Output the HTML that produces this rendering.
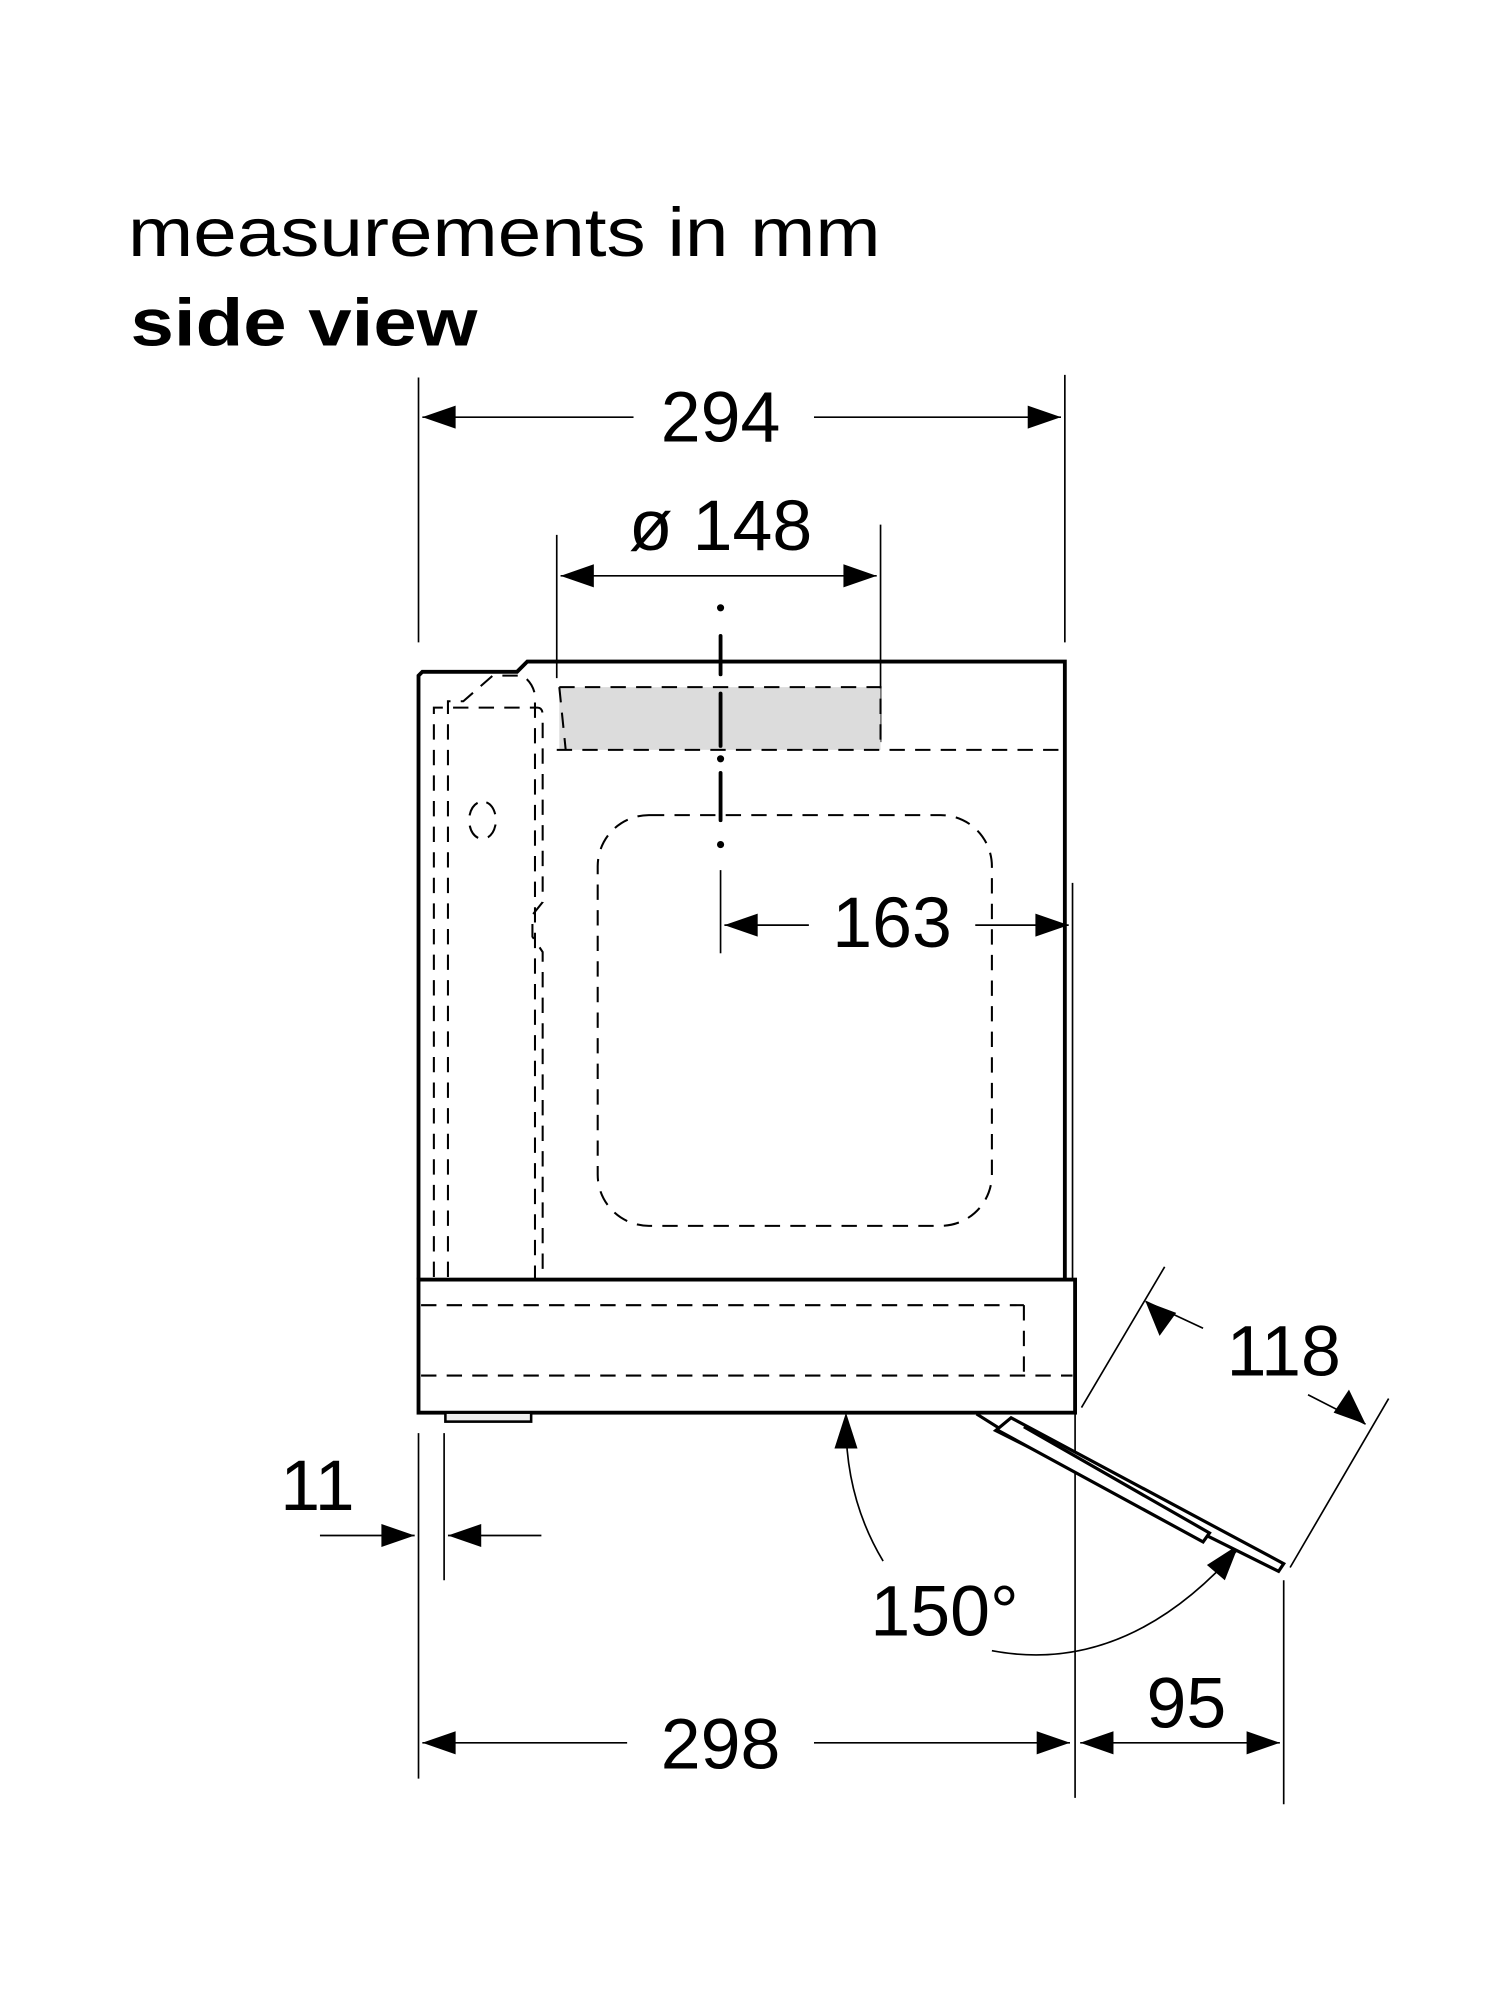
<!DOCTYPE html>
<html><head><meta charset="utf-8"><style>
html,body{margin:0;padding:0;background:#fff;}
svg{display:block;}
text{font-family:"Liberation Sans",Arial,sans-serif;fill:#000;}
</style></head><body>
<svg width="1500" height="2000" viewBox="0 0 1172 1563" preserveAspectRatio="none" xmlns="http://www.w3.org/2000/svg">
<rect width="1172" height="1563" fill="#fff"/>
<text x="100" y="200" font-size="54" textLength="588" lengthAdjust="spacingAndGlyphs">measurements in mm</text>
<text x="102" y="270" font-size="52" font-weight="bold" textLength="271" lengthAdjust="spacingAndGlyphs">side view</text>

<g stroke="#000" stroke-width="1.3" fill="none">
<line x1="327" y1="295" x2="327" y2="502"/><line x1="832" y1="293" x2="832" y2="502"/>
<line x1="330" y1="326" x2="495" y2="326"/><line x1="636" y1="326" x2="829" y2="326"/>
<line x1="435" y1="418" x2="435" y2="530"/><line x1="688" y1="410" x2="688" y2="580"/>
<line x1="438" y1="450" x2="685" y2="450"/>
<line x1="563" y1="680" x2="563" y2="745"/>
<line x1="566" y1="723" x2="632" y2="723"/><line x1="762" y1="723" x2="835" y2="723"/>
<line x1="838" y1="690" x2="838" y2="1000"/>
<line x1="327" y1="1120" x2="327" y2="1390"/><line x1="347" y1="1120" x2="347" y2="1235"/>
<line x1="250" y1="1200" x2="324" y2="1200"/><line x1="350" y1="1200" x2="423" y2="1200"/>
<line x1="840" y1="1105" x2="840" y2="1405"/><line x1="1003" y1="1235" x2="1003" y2="1410"/>
<line x1="330" y1="1362" x2="490" y2="1362"/><line x1="636" y1="1362" x2="836" y2="1362"/>
<line x1="844" y1="1362" x2="1000" y2="1362"/>
<line x1="845" y1="1100" x2="910" y2="990"/><line x1="1008" y1="1225" x2="1085" y2="1093"/>
<line x1="940" y1="1038" x2="895" y2="1017"/><line x1="1022" y1="1090" x2="1067" y2="1113"/>
<path d="M690,1220 Q660,1170 661,1108"/>
<path d="M775,1290 Q880,1310 968,1210"/>
</g>
<g fill="#000">
<path d="M330,326 l26,-9 v18z"/><path d="M829,326 l-26,-9 v18z"/>
<path d="M438,450 l26,-9 v18z"/><path d="M685,450 l-26,-9 v18z"/>
<path d="M566,723 l26,-9 v18z"/><path d="M835,723 l-26,-9 v18z"/>
<path d="M324,1200 l-26,-9 v18z"/><path d="M350,1200 l26,-9 v18z"/>
<path d="M330,1362 l26,-9 v18z"/><path d="M836,1362 l-26,-9 v18z"/>
<path d="M844,1362 l26,-9 v18z"/><path d="M1000,1362 l-26,-9 v18z"/>
<path d="M895,1017 l11,27 l13,-18z"/><path d="M1067,1113 l-13,-27 l-12,18z"/>
<path d="M661,1104 l-9,28 h18z"/><path d="M968,1207 l-25,16 l14,12z"/>
</g>

<rect x="437" y="537" width="251" height="49" fill="#dcdcdc"/>
<g stroke="#000" stroke-width="3" fill="none">
<path d="M327,1000 V528 l3,-3 H404 l8,-8 H832 V1000"/>
<rect x="327" y="1000" width="513" height="104"/>
</g>
<rect x="348" y="1104" width="67" height="7" fill="#eee" stroke="#000" stroke-width="2"/>
<g stroke="#000" stroke-width="2.5" fill="#fff">
<path d="M763,1105 L790,1122"/>
<path d="M790,1108 L1003,1222 l-4,6 L778,1118 z"/>
<path d="M780,1118 L940,1205 l5,-7 L800,1115"/>
</g>
<g stroke="#000" stroke-width="3" stroke-linecap="round">
<line x1="563" y1="497" x2="563" y2="527"/><line x1="563" y1="542" x2="563" y2="583"/>
<line x1="563" y1="604" x2="563" y2="641"/>
<circle cx="563" cy="475" r="1.3"/><circle cx="563" cy="593" r="1.3"/><circle cx="563" cy="660" r="1.3"/>
</g>
<g stroke="#000" stroke-width="1.6" fill="none" stroke-dasharray="12,8">
<path d="M437,537 H688 V586"/>
<line x1="435" y1="586" x2="832" y2="586"/>
<path d="M437,537 L442,586"/>
<rect x="467" y="637" width="308" height="321" rx="40"/>
<line x1="329" y1="1020" x2="800" y2="1020"/>
<line x1="329" y1="1075" x2="838" y2="1075"/>
<line x1="800" y1="1020" x2="800" y2="1075"/>
<path d="M350,998 V548 H362 L385,528 H408 q8,5 10,15 V1000"/>
<path d="M339,998 V553 H420 q4,0 4,6 V705 l-8,10 V732 l8,12 V1000"/>
<path d="M380,627 a10,14 0 1 1 -6,28 a10,14 0 0 1 6,-28"/>
</g>

<g font-size="56" text-anchor="middle">
<text x="563" y="345">294</text>
<text x="563" y="430">ø 148</text>
<text x="697" y="740">163</text>
<text x="1003" y="1075">118</text>
<text x="248" y="1180">11</text>
<text x="738" y="1278">150°</text>
<text x="563" y="1382">298</text>
<text x="927" y="1350">95</text>
</g>
</svg>
</body></html>
